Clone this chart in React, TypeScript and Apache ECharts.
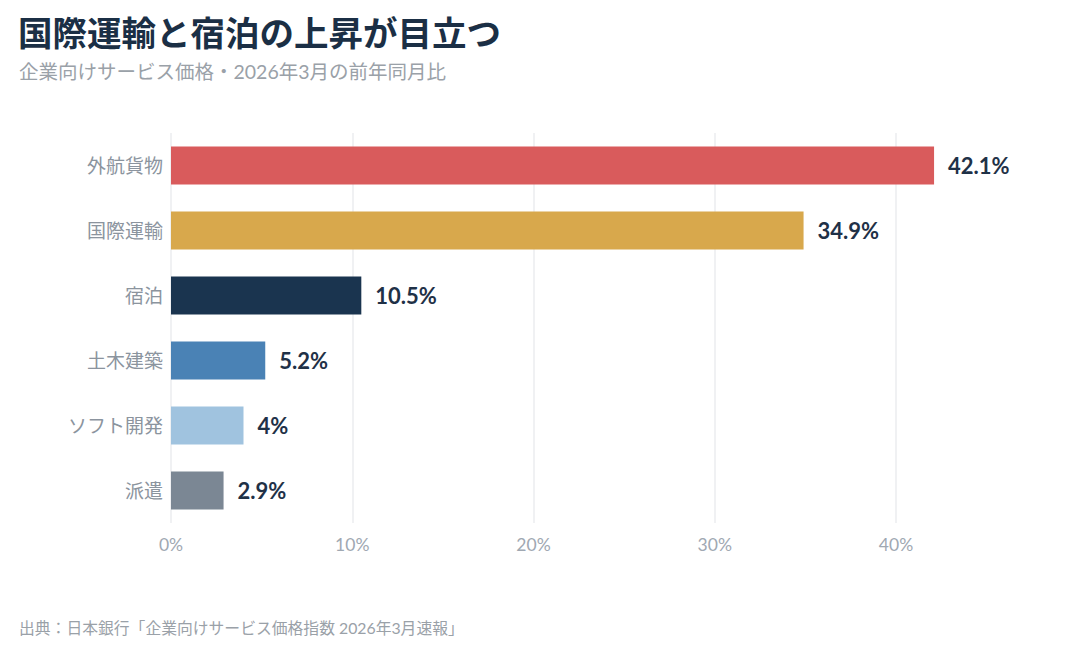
import { useRef, useEffect } from 'react';
import * as echarts from 'echarts';

const categories = ['外航貨物', '国際運輸', '宿泊', '土木建築', 'ソフト開発', '派遣'];
const values = [42.1, 34.9, 10.5, 5.2, 4, 2.9];
const barColors = ['#d95b5c', '#d8a84c', '#1a344f', '#4a82b5', '#a0c3df', '#7b8794'];
const xTicks = [0, 10, 20, 30, 40];

const FONT = "Lato, 'Noto Sans CJK JP', sans-serif";

export default function App() {
  const chartRef = useRef<HTMLDivElement>(null);

  useEffect(() => {
    if (!chartRef.current) return;
    const chart = echarts.init(chartRef.current, null, { renderer: 'svg' });

    const option = {
      animation: false,
      backgroundColor: '#ffffff',
      textStyle: { fontFamily: FONT },
      title: [
        {
          text: '国際運輸と宿泊の上昇が目立つ',
          left: 13,
          top: 9,
          textStyle: { fontSize: 34.5, fontWeight: 'bold', color: '#1b2f45', fontFamily: "'Noto Sans CJK JP', sans-serif" },
        },
        {
          text: '企業向けサービス価格・2026年3月の前年同月比',
          left: 14,
          top: 57,
          textStyle: { fontSize: 19.5, fontWeight: 'normal', color: '#9aa1a8', fontFamily: FONT },
        },
        {
          text: '出典：日本銀行「企業向けサービス価格指数 2026年3月速報」',
          left: 14,
          top: 615,
          textStyle: { fontSize: 15.8, fontWeight: 'normal', color: '#9aa1a8', fontFamily: FONT },
        },
      ],
      grid: { left: 171, width: 725, top: 133, height: 390, containLabel: false },
      xAxis: {
        type: 'value',
        min: xTicks[0],
        max: xTicks[xTicks.length - 1],
        interval: 10,
        axisLine: { show: false },
        axisTick: { show: false },
        axisLabel: { formatter: '{value}%', color: '#a0a8b2', fontSize: 17.5, margin: 13, fontFamily: FONT },
        splitLine: { show: true, lineStyle: { color: '#ebedef', width: 1.5 } },
      },
      yAxis: {
        type: 'category',
        data: categories,
        inverse: true,
        axisLine: { show: false },
        axisTick: { show: false },
        axisLabel: { color: '#8b949e', fontSize: 19, margin: 8, fontFamily: FONT },
      },
      series: [
        {
          type: 'bar',
          data: values.map((v, i) => ({ value: v, itemStyle: { color: barColors[i] } })),
          barWidth: 38,
          clip: false,
          label: {
            show: true,
            position: 'right',
            distance: 14,
            formatter: (p: any) => `${p.value}%`,
            color: '#1f3147',
            fontSize: 22,
            fontWeight: 'bold',
            fontFamily: FONT,
          },
        },
      ],
    };

    chart.setOption(option);
    const handleResize = () => chart.resize();
    window.addEventListener('resize', handleResize);
    return () => {
      window.removeEventListener('resize', handleResize);
      chart.dispose();
    };
  }, []);

  return <div ref={chartRef} style={{ width: 1086, height: 649, margin: -8 }} />;
}
